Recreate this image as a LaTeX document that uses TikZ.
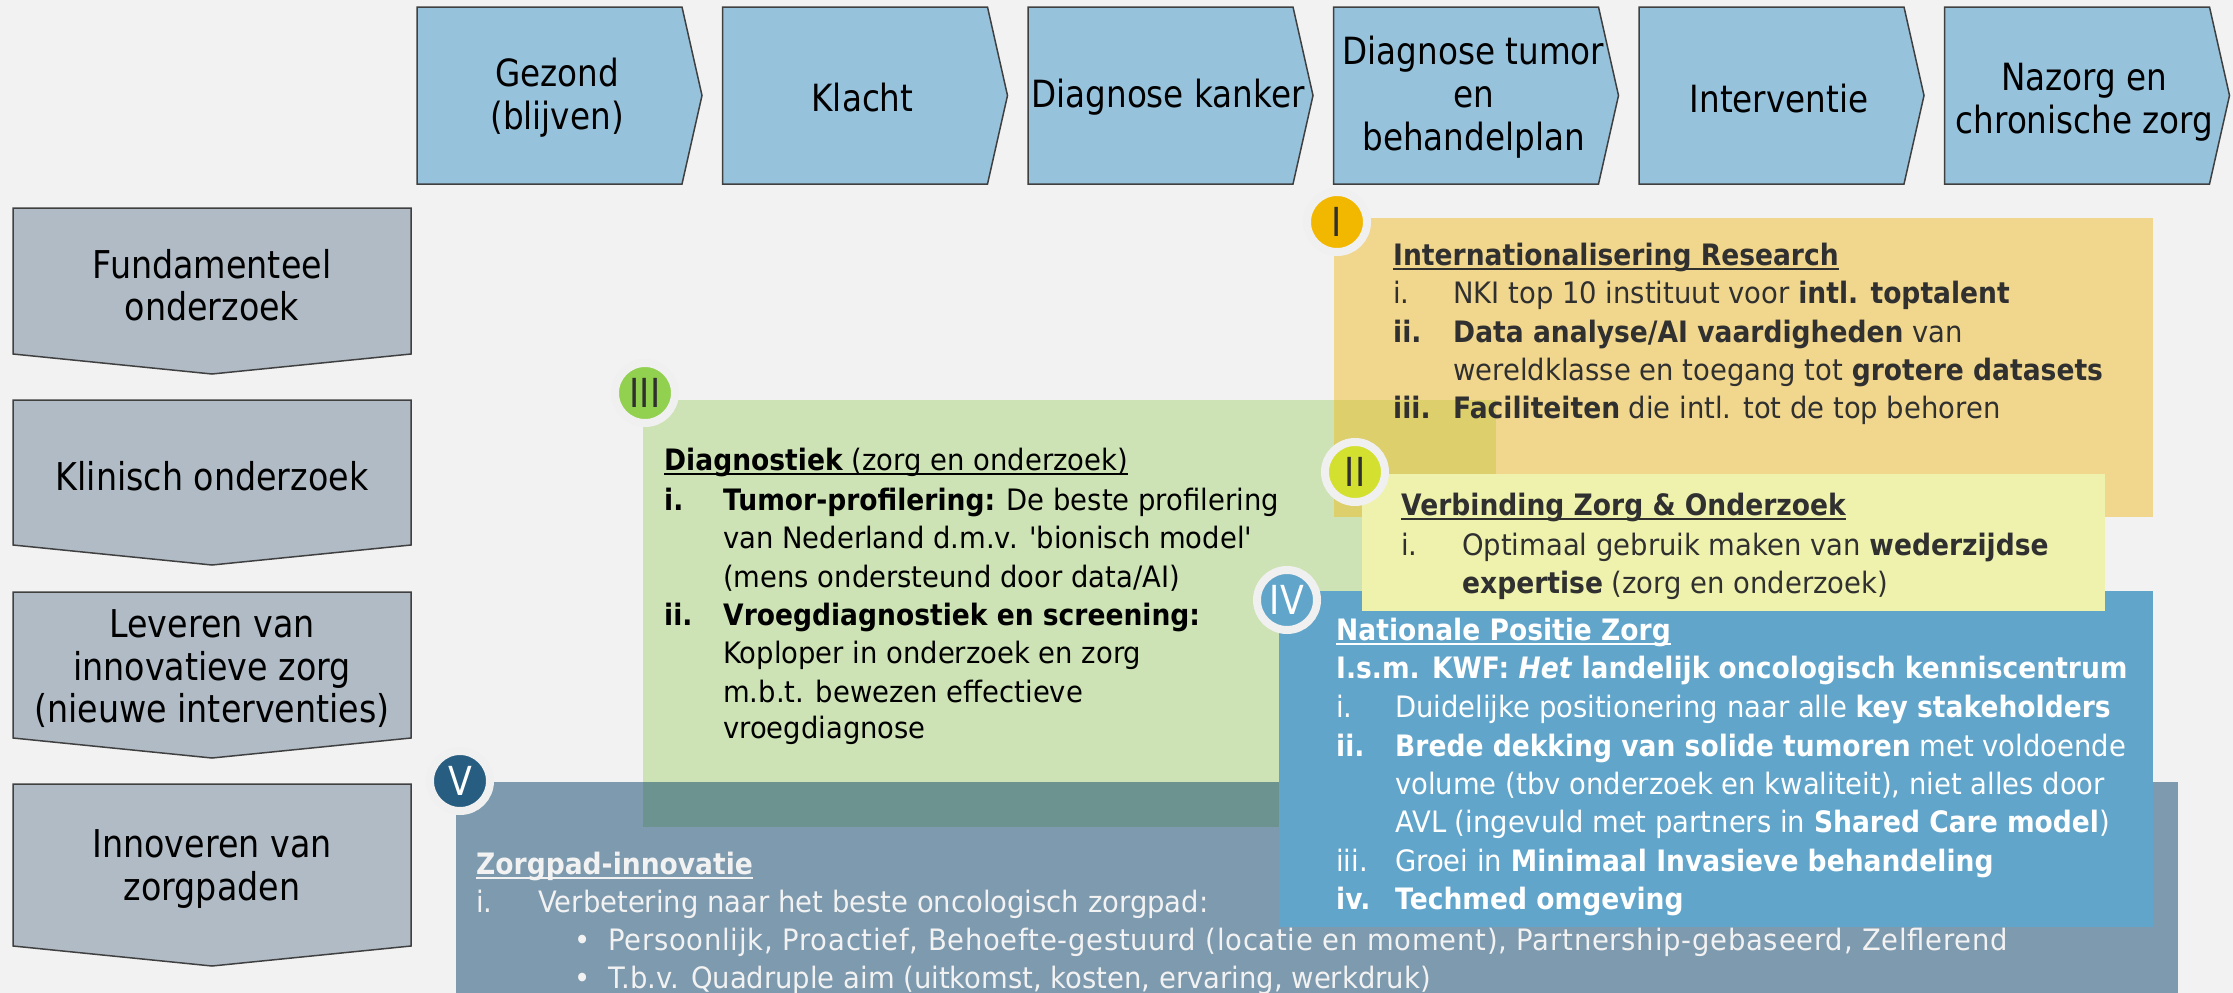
\documentclass[tikz,border=0pt]{standalone}
\usepackage{fontspec}
\setmainfont{DejaVu Sans}[Ligatures=TeXOff,
  UprightFeatures={FakeStretch=0.93}, ItalicFeatures={FakeStretch=0.93},
  BoldFeatures={FakeStretch=0.90}, BoldItalicFeatures={FakeStretch=0.90}]
\newfontfamily\hdrfont{DejaVu Sans}[FakeStretch=0.87]
\usetikzlibrary{positioning}
\definecolor{bgc}{HTML}{F2F2F2}
\definecolor{chevc}{HTML}{96C2DC}
\definecolor{greyc}{HTML}{B0BBC5}
\definecolor{edgec}{HTML}{404040}
\definecolor{greenbox}{HTML}{CDE3B5}
\definecolor{orangec}{RGB}{240,184,20}
\definecolor{slatec}{RGB}{12,68,108}
\definecolor{bluebox}{HTML}{62A5CB}
\definecolor{yellowbox}{HTML}{EFF2AD}
\definecolor{circI}{HTML}{F2B800}
\definecolor{circII}{HTML}{D4E030}
\definecolor{circIII}{HTML}{92D050}
\definecolor{circV}{HTML}{275D80}
\definecolor{darktxt}{HTML}{303030}
\definecolor{ringc}{HTML}{F0F0F0}
\newsavebox\ulbox
\newcommand\uln[1]{\sbox\ulbox{#1}\rlap{\rule[-4.5pt]{\wd\ulbox}{1.7pt}}\usebox\ulbox}
\tikzset{
  x=1pt, y=-1pt,
  chev/.style={draw=edgec, line width=1.5pt, fill=chevc},
  lchev/.style={draw=edgec, line width=1.5pt, fill=greyc},
  hdr/.style={align=center, inner sep=0pt, font=\hdrfont\fontsize{37.5}{43}\selectfont},
  lhdr/.style={align=center, inner sep=0pt, font=\hdrfont\fontsize{38.3}{42.5}\selectfont},
  txt/.style={anchor=base west, inner sep=0pt, font=\fontsize{29.5}{38.3}\selectfont},
  badge/.style={circle, minimum size=60pt, inner sep=0pt, draw=ringc, line width=8pt, font=\hdrfont\fontsize{40}{40}\selectfont},
}
\begin{document}
\begin{tikzpicture}
\useasboundingbox (0,0) rectangle (2233,993);
\fill[bgc] (0,0) rectangle (2233,993);

% top chevrons
\foreach \L/\nm in {417/c1,722.5/c2,1028/c3,1333.5/c4,1639/c5,1944.5/c6}{
  \draw[chev] (\L,7) -- ++(265,0) -- ++(20,88.5) -- ++(-20,88.5) -- ++(-265,0) -- cycle;
  \coordinate (\nm) at (\L+140,95.5);
}
\node[hdr] (t1) at ([yshift=-2pt]c1) {Gezond\\(blijven)};
\node[hdr] (t2) at ([yshift=-2pt]c2) {Klacht};
\node[hdr] (t3) at ([yshift=-2pt]c3) {Diagnose kanker};
\node[hdr] (t4) at ([yshift=-2pt]c4) {Diagnose tumor\\en\\behandelplan};
\node[hdr] (t5) at ([yshift=-3pt]c5) {Interventie};
\node[hdr] (t6) at ([yshift=-7pt]c6) {Nazorg en\\chronische zorg};

% left chevrons
\foreach \T/\B/\nm in {208/354/l1,400/545/l2,592/738/l3,784/946/l4}{
  \draw[lchev] (13,\T) -- (411,\T) -- (411,\B) -- (212,\B+20) -- (13,\B) -- cycle;
  \coordinate (\nm) at (212,{(\T+\B)/2+4});
}
\node[lhdr] (s1) at (l1) {Fundamenteel\\onderzoek};
\node[lhdr] (s2) at (l2) {Klinisch onderzoek};
\node[lhdr] (s3) at (l3) {Leveren van\\innovatieve zorg\\(nieuwe interventies)};
\node[lhdr] (s4) at (l4) {Innoveren van\\zorgpaden};

% coloured boxes
\fill[greenbox] (643,400) rectangle (1496,827);
\fill[orangec, opacity=0.45] (1334,218) rectangle (2153,517);
\fill[slatec, opacity=0.5] (456,782) rectangle (2178,1000);
\fill[bluebox] (1279,591) rectangle (2153,927);
\fill[yellowbox] (1362,474) rectangle (2105,611);

% badges
\node[badge, fill=circIII, text=darktxt] (bIII) at (645,393) {III};
\node[badge, fill=circI, text=darktxt] (bI) at (1337,222) {I};
\node[badge, fill=circV, text=white] (bV) at (460,781) {V};
\node[badge, fill=bluebox, text=white] (bIV) at (1287,600) {IV};
\node[badge, fill=circII, text=darktxt] (bII) at (1355,472) {II};

% I box text
\begin{scope}[every node/.append style={text=darktxt}]
\node[txt] (a0) at (1393,265) {\uln{\textbf{Internationalisering Research}}};
\node[txt] (a1n) at (1393,303) {i.};
\node[txt] (a1) at (1453,303) {NKI top 10 instituut voor \textbf{intl. toptalent}};
\node[txt] (a2n) at (1393,342) {\textbf{ii.}};
\node[txt] (a2) at (1453,342) {\textbf{Data analyse/AI vaardigheden} van};
\node[txt] (a3) at (1453,380) {wereldklasse en toegang tot \textbf{grotere datasets}};
\node[txt] (a4n) at (1393,418) {\textbf{iii.}};
\node[txt] (a4) at (1453,418) {\textbf{Faciliteiten} die intl. tot de top behoren};
% II box text
\node[txt] (b0) at (1401,515) {\uln{\textbf{Verbinding Zorg \& Onderzoek}}};
\node[txt] (b1n) at (1401,555) {i.};
\node[txt] (b1) at (1462,555) {Optimaal gebruik maken van \textbf{wederzijdse}};
\node[txt] (b2) at (1462,593) {\textbf{expertise} (zorg en onderzoek)};
\end{scope}

% III box text
\begin{scope}[every node/.append style={text=black}]
\node[txt] (c0) at (664,470) {\uln{\textbf{Diagnostiek} (zorg en onderzoek)}};
\node[txt] (c1n) at (664,510) {\textbf{i.}};
\node[txt] (c1t) at (723,510) {\textbf{Tumor-profilering:} De beste profilering};
\node[txt] (c2t) at (723,548) {van Nederland d.m.v. 'bionisch model'};
\node[txt] (c3t) at (723,587) {(mens ondersteund door data/AI)};
\node[txt] (c4n) at (664,625) {\textbf{ii.}};
\node[txt] (c4t) at (723,625) {\textbf{Vroegdiagnostiek en screening:}};
\node[txt] (c5t) at (723,663) {Koploper in onderzoek en zorg};
\node[txt] (c6t) at (723,702) {m.b.t. bewezen effectieve};
\node[txt] (c7t) at (723,738) {vroegdiagnose};
\end{scope}

% IV box text
\begin{scope}[every node/.append style={text=white}]
\node[txt] (d0) at (1336,640) {\uln{\textbf{Nationale Positie Zorg}}};
\node[txt] (d1) at (1336,678) {\textbf{I.s.m. KWF: \textit{Het} landelijk oncologisch kenniscentrum}};
\node[txt] (d2n) at (1336,717) {i.};
\node[txt] (d2) at (1395,717) {Duidelijke positionering naar alle \textbf{key stakeholders}};
\node[txt] (d3n) at (1336,756) {\textbf{ii.}};
\node[txt] (d3) at (1395,756) {\textbf{Brede dekking van solide tumoren} met voldoende};
\node[txt] (d4) at (1395,794) {volume (tbv onderzoek en kwaliteit), niet alles door};
\node[txt] (d5) at (1395,832) {AVL (ingevuld met partners in \textbf{Shared Care model})};
\node[txt] (d6n) at (1336,871) {iii.};
\node[txt] (d6) at (1395,871) {Groei in \textbf{Minimaal Invasieve behandeling}};
\node[txt] (d7n) at (1336,909) {\textbf{iv.}};
\node[txt] (d7) at (1395,909) {\textbf{Techmed omgeving}};
\end{scope}

% V box text
\begin{scope}[every node/.append style={text=bgc}]
\node[txt] (e0) at (476,874) {\uln{\textbf{Zorgpad-innovatie}}};
\node[txt] (e1n) at (476,912) {i.};
\node[txt] (e1) at (538,912) {Verbetering naar het beste oncologisch zorgpad:};
\node[txt] (e2n) at (574,950) {•};
\node[txt] (e2) at (608,950) {\addfontfeatures{LetterSpace=2.6}Persoonlijk, Proactief, Behoefte-gestuurd (locatie en moment), Partnership-gebaseerd, Zelflerend};
\node[txt] (e3n) at (574,988) {•};
\node[txt] (e3) at (608,988) {T.b.v. Quadruple aim (uitkomst, kosten, ervaring, werkdruk)};
\end{scope}
\end{tikzpicture}
\end{document}
